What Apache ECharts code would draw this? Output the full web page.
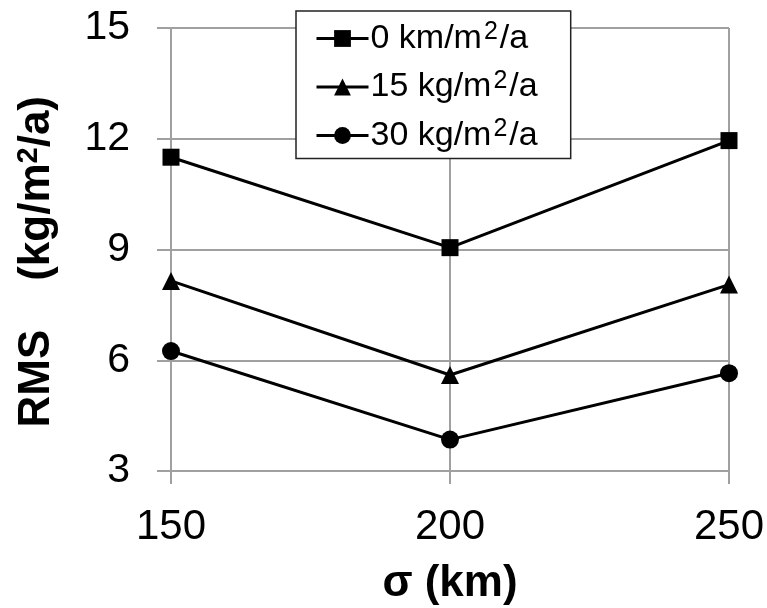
<!DOCTYPE html>
<html><head><meta charset="utf-8">
<script src="https://cdn.jsdelivr.net/npm/echarts@6/dist/echarts.min.js"></script>
<style>html,body{margin:0;padding:0;background:#fff}#c{width:767px;height:608px}</style>
</head><body><div id="c"></div>
<script>
const xValues = [150, 200, 250];
const s0 = [11.5, 9.05, 11.95];
const s15 = [8.15, 5.6, 8.05];
const s30 = [6.25, 3.85, 5.65];
const seriesNames = ['0 km/m2/a', '15 kg/m2/a', '30 kg/m2/a'];
const legendLabels = {
  '0 km/m2/a': '{a|0 km/m}{s|2}{a|/a}',
  '15 kg/m2/a': '{a|15 kg/m}{s|2}{a|/a}',
  '30 kg/m2/a': '{a|30 kg/m}{s|2}{a|/a}'
};
const FONT = '"Liberation Sans", Arial, sans-serif';
function pairs(v){ return xValues.map((x,i)=>[x, v[i]]); }
const chart = echarts.init(document.getElementById('c'));
const lineStyle = {color:'#000', width:3};
chart.setOption({
  animation:false,
  backgroundColor:'#fff',
  grid:{left:171, right:38, top:28, bottom:137, outerBoundsMode:'none', containLabel:false},
  legend:{
    left:296, top:11,
    orient:'vertical',
    backgroundColor:'#fff', borderColor:'#222', borderWidth:1.5,
    padding:[9,33,6,19], itemGap:13,
    itemWidth:52, itemHeight:21,
    lineStyle:{width:3, color:'#000'},
    data: seriesNames,
    formatter: n => legendLabels[n],
    textStyle:{color:'#000', fontFamily:FONT, padding:[0,0,0,-3], rich:{
      a:{fontSize:34, fontFamily:FONT, color:'#000'},
      s:{fontSize:25, fontFamily:FONT, color:'#000', verticalAlign:'top', padding:[0,2,12,2]}
    }}
  },
  xAxis:{
    type:'value', min:150, max:250, interval:50,
    axisLine:{show:true, lineStyle:{color:'#a0a0a0', width:2}},
    axisTick:{show:true, length:13, lineStyle:{color:'#a0a0a0', width:2}},
    splitLine:{show:true, lineStyle:{color:'#a0a0a0', width:2}},
    axisLabel:{fontSize:42, fontFamily:FONT, color:'#000', margin:35},
    name:'σ (km)', nameLocation:'middle', nameGap:91,
    nameTextStyle:{fontSize:44, fontWeight:'bold', fontFamily:FONT, color:'#000'}
  },
  yAxis:{
    type:'value', min:3, max:15, interval:3,
    axisLine:{show:true, lineStyle:{color:'#a0a0a0', width:2}},
    axisTick:{show:true, length:14, lineStyle:{color:'#a0a0a0', width:2}},
    splitLine:{show:true, lineStyle:{color:'#a0a0a0', width:2}},
    axisLabel:{fontSize:41, fontFamily:FONT, color:'#000', margin:41},
    name:'{b|RMS    (kg/m}{s|2}{b|/a)  }', nameLocation:'middle', nameGap:112, nameRotate:90,
    nameTextStyle:{fontFamily:FONT, color:'#000', rich:{
      b:{fontSize:44, fontWeight:'bold', fontFamily:FONT, color:'#000'},
      s:{fontSize:29, fontWeight:'bold', fontFamily:FONT, color:'#000', verticalAlign:'top', padding:[0,0,16,0]}
    }}
  },
  series:[
    {name:seriesNames[0], type:'line', data:pairs(s0), symbol:'rect', symbolSize:17, lineStyle, itemStyle:{color:'#000'}},
    {name:seriesNames[1], type:'line', data:pairs(s15), symbol:'triangle', symbolSize:18, lineStyle, itemStyle:{color:'#000'}},
    {name:seriesNames[2], type:'line', data:pairs(s30), symbol:'circle', symbolSize:18, lineStyle, itemStyle:{color:'#000'}}
  ]
});
</script></body></html>
